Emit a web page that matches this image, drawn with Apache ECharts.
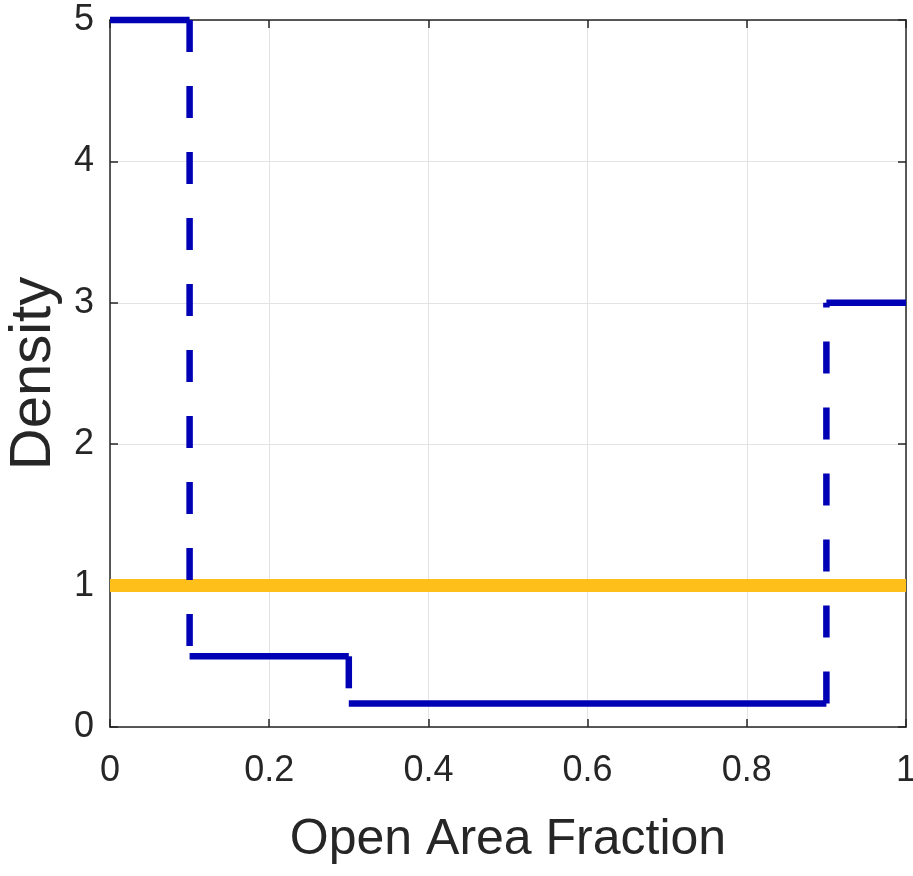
<!DOCTYPE html>
<html>
<head>
<meta charset="utf-8">
<script src="https://cdn.jsdelivr.net/npm/echarts@6/dist/echarts.min.js"></script>
<style>
  html, body { margin: 0; padding: 0; background: #fff; }
  #chart { width: 913px; height: 876px; }
</style>
</head>
<body>
<div id="chart"></div>
<script>
// bin edges and density of each bin (step histogram)
var binEdges = [0, 0.1, 0.3, 0.9, 1];
var binDensity = [5, 0.5, 0.167, 3];
// uniform reference density
var uniformX = [0, 1];
var uniformY = [1, 1];
var xTicks = [0, 0.2, 0.4, 0.6, 0.8, 1];
var yTicks = [0, 1, 2, 3, 4, 5];

var blue = '#0000B4';
var yellow = '#FFBF1A';
var font = '"Liberation Sans", Arial, Helvetica, sans-serif';

var series = [];

series.push({
    type: 'line',
    data: uniformX.map(function (x, i) { return [x, uniformY[i]]; }),
    symbol: 'none',
    clip: false,
    lineStyle: { color: yellow, width: 13 },
    z: 2
});

// solid horizontal steps
binDensity.forEach(function (d, i) {
    series.push({
        type: 'line',
        data: [[binEdges[i], d], [binEdges[i + 1], d]],
        symbol: 'none',
        clip: false,
        lineStyle: { color: blue, width: 6.5, cap: 'butt' },
        z: 3
    });
});

// dashed vertical risers
for (var i = 0; i < binDensity.length - 1; i++) {
    series.push({
        type: 'line',
        data: [[binEdges[i + 1], binDensity[i]], [binEdges[i + 1], binDensity[i + 1]]],
        symbol: 'none',
        clip: false,
        lineStyle: { color: blue, width: 6.5, type: [32, 34], cap: 'butt' },
        z: 3
    });
}

function axisLine() {
    return { show: true, onZero: false, lineStyle: { color: '#262626', width: 1.5 } };
}
function tickIn() {
    return { show: true, inside: true, length: 8, lineStyle: { color: '#262626', width: 1.5 } };
}

var chart = echarts.init(document.getElementById('chart'));
chart.setOption({
    animation: false,
    backgroundColor: '#fff',
    grid: { left: 110, right: 7, top: 20, bottom: 149, outerBoundsMode: 'none', containLabel: false },
    xAxis: [{
        type: 'value',
        min: 0, max: 1, interval: 0.2,
        name: 'Open Area Fraction',
        nameLocation: 'middle',
        nameGap: 88,
        nameTextStyle: { fontFamily: font, fontSize: 50, color: '#262626' },
        axisLine: axisLine(),
        axisTick: tickIn(),
        axisLabel: {
            margin: 26,
            fontFamily: font, fontSize: 36, color: '#262626',
            formatter: function (v) {
                var k = xTicks.indexOf(Math.round(v * 10) / 10);
                return k >= 0 ? String(xTicks[k]) : '';
            }
        },
        splitLine: { show: true, lineStyle: { color: '#e3e3e3', width: 1 } }
    }, {
        type: 'value', position: 'top',
        min: 0, max: 1, interval: 0.2,
        axisLine: axisLine(), axisTick: tickIn(),
        axisLabel: { show: false }, splitLine: { show: false }
    }],
    yAxis: [{
        type: 'value',
        min: 0, max: 5, interval: 1,
        name: 'Density',
        nameLocation: 'middle',
        nameGap: 46,
        nameTextStyle: { fontFamily: font, fontSize: 58, color: '#262626' },
        axisLine: axisLine(),
        axisTick: tickIn(),
        axisLabel: {
            margin: 16,
            fontFamily: font, fontSize: 36, color: '#262626',
            formatter: function (v) { return yTicks.indexOf(v) >= 0 ? String(v) : ''; }
        },
        splitLine: { show: true, lineStyle: { color: '#e3e3e3', width: 1 } }
    }, {
        type: 'value', position: 'right',
        min: 0, max: 5, interval: 1,
        axisLine: axisLine(), axisTick: tickIn(),
        axisLabel: { show: false }, splitLine: { show: false }
    }],
    series: series
});
</script>
</body>
</html>
